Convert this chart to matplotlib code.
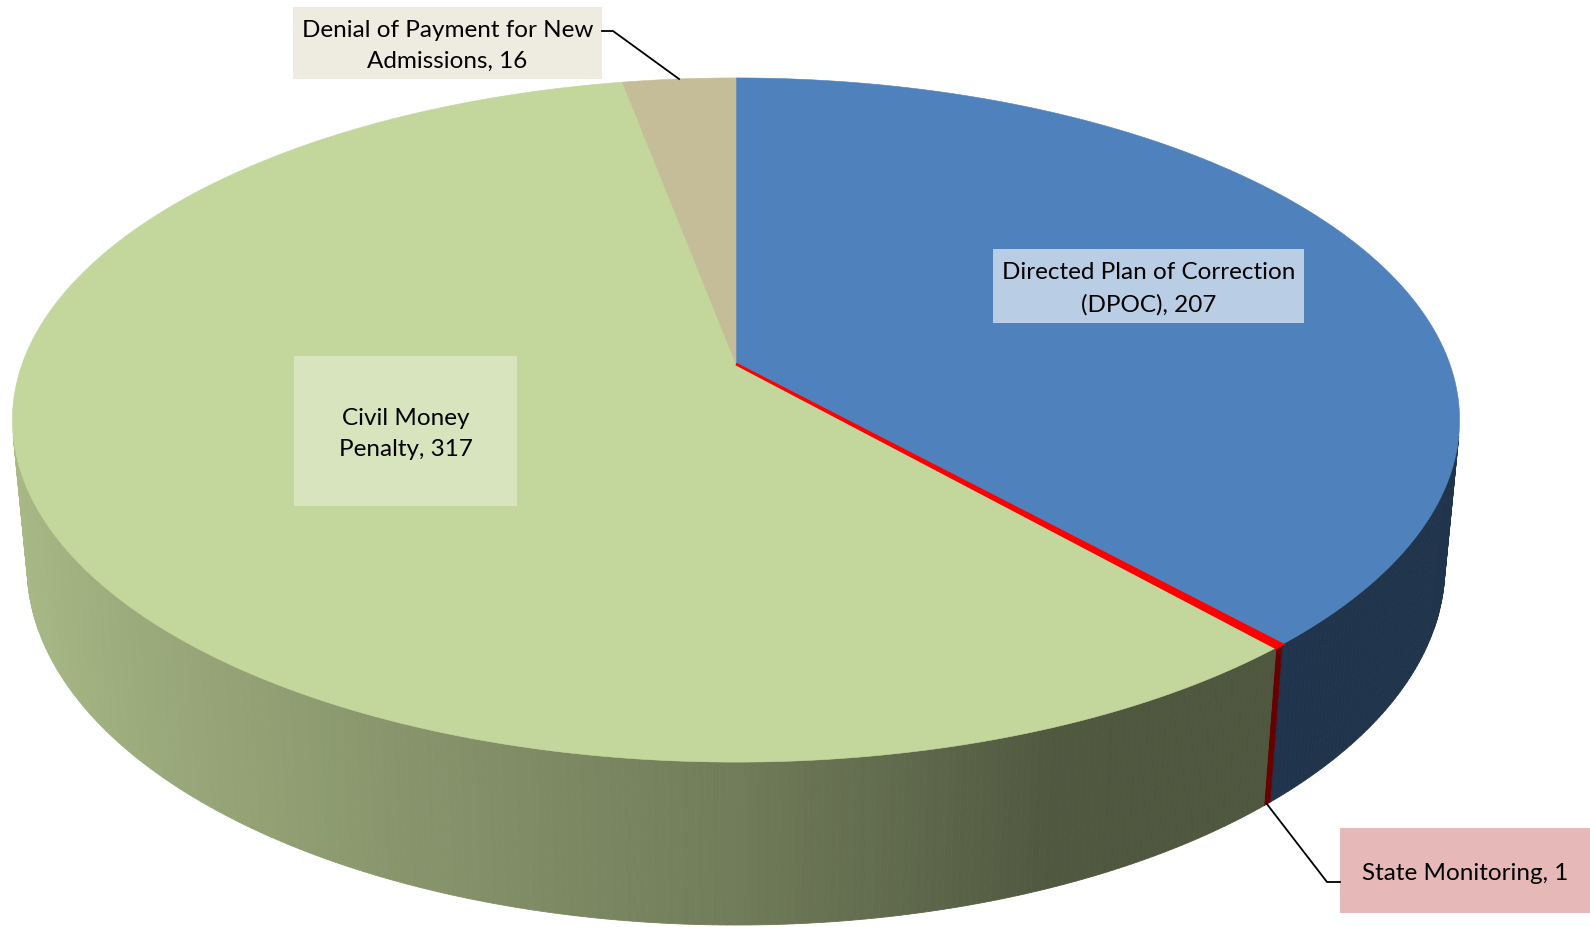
import numpy as np
import matplotlib
matplotlib.use("Agg")
import matplotlib.pyplot as plt
from matplotlib.patches import Polygon, Rectangle

# Enforcement actions, clockwise from 12 o'clock
categories = ["Directed Plan of Correction (DPOC)", "State Monitoring",
              "Civil Money Penalty", "Denial of Payment for New Admissions"]
values = [207, 1, 317, 16]
label_texts = ["Directed Plan of Correction\n(DPOC), 207", "State Monitoring, 1",
               "Civil Money\nPenalty, 317", "Denial of Payment for New\nAdmissions, 16"]
top_colors = ["#4F81BD", "#FF0000", "#C3D69B", "#C4BD97"]
box_colors = ["#B9CDE5", "#E6B9B8", "#D7E4BD", "#EEECE1"]

W, H = 1590, 927
FONT = "Lato"

# perspective camera for the 3-D pie (unit radius disc)
cx, cy = 736, 364
tilt = np.radians(27.8)
dist = 5.402
focal = 3856
thickness = 0.2337
S, C = np.sin(tilt), np.cos(tilt)


def project(theta, z=0.0):
    X = np.sin(theta)
    Y = np.cos(theta)
    v = Y * S + z * C
    w = dist + Y * C - z * S
    return cx + focal * X / w, cy - focal * v / w


def shade(theta):
    X = np.sin(theta)
    return np.interp(X, [-1, 0, 0.38, 1], [0.87, 0.58, 0.41, 0.40])


fig = plt.figure(figsize=(W / 100, H / 100), dpi=100)
ax = fig.add_axes([0, 0, 1, 1])
ax.set_xlim(0, W)
ax.set_ylim(H, 0)
ax.axis("off")

total = float(sum(values))
bounds = np.concatenate([[0], np.cumsum(values)]) / total * 2 * np.pi

# visible part of the outer wall
vis_lo = np.arccos(-1.0 / (dist * C))
vis_hi = 2 * np.pi - vis_lo
for i, col in enumerate(top_colors):
    a0, a1 = max(bounds[i], vis_lo), min(bounds[i + 1], vis_hi)
    if a1 <= a0:
        continue
    n = max(2, int(np.degrees(a1 - a0) * 2))
    ts = np.linspace(a0, a1, n)
    base = np.array(matplotlib.colors.to_rgb(col))
    for t0, t1 in zip(ts[:-1], ts[1:]):
        tm = 0.5 * (t0 + t1)
        pts = [project(t0), project(t1), project(t1, -thickness), project(t0, -thickness)]
        fc = np.clip(base * shade(tm), 0, 1)
        ax.add_patch(Polygon(pts, closed=True, facecolor=fc, edgecolor=fc, lw=0.6))

# top faces
order = [0, 2, 3, 1]
for i in order:
    a0, a1 = bounds[i], bounds[i + 1]
    n = max(3, int(np.degrees(a1 - a0) * 2))
    ts = np.linspace(a0, a1, n)
    pts = [(cx, cy)] + [project(t) for t in ts]
    lw = 2.0 if values[i] < 5 else 0.4
    ax.add_patch(Polygon(pts, closed=True, facecolor=top_colors[i],
                         edgecolor=top_colors[i], lw=lw, joinstyle="miter"))

# data labels
boxes = {
    0: (993, 249, 1304, 323),
    1: (1340, 828, 1590, 913),
    2: (294, 356, 517, 506),
    3: (293, 7, 602, 79),
}
for i, (x0, y0, x1, y1) in boxes.items():
    ax.add_patch(Rectangle((x0, y0), x1 - x0, y1 - y0, facecolor=box_colors[i],
                           edgecolor="none", zorder=5))
    ax.text((x0 + x1) / 2, (y0 + y1) / 2 + 3, label_texts[i], ha="center", va="center",
            fontsize=17.5, family=FONT, color="black", linespacing=1.6, zorder=6)

# leader lines
mid3 = 0.5 * (bounds[3] + bounds[4])
ex, ey = project(mid3)
ax.plot([602, 613, ex], [31, 31, ey], color="black", lw=1.3, zorder=7)
mid1 = 0.5 * (bounds[1] + bounds[2])
ex, ey = project(mid1, -thickness)
ax.plot([ex, 1327, 1340], [ey, 882, 882], color="black", lw=1.3, zorder=7)

fig.savefig("out.png", dpi=100, facecolor="white")
